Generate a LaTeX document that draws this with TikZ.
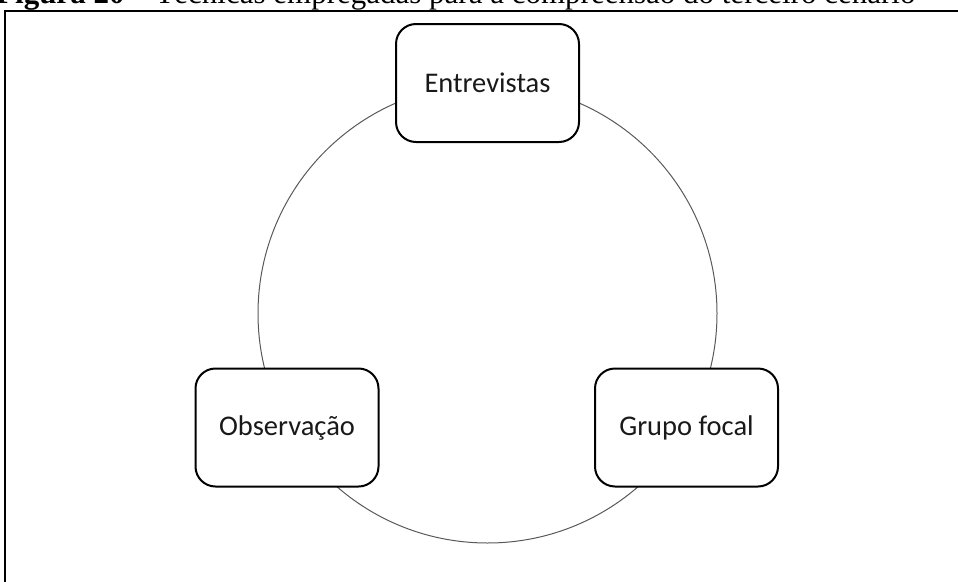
\documentclass[tikz,border=0pt]{standalone}
\usepackage{fontspec}
\setmainfont{Liberation Serif}
\newfontfamily\boxfont{Carlito}
\begin{document}
\begin{tikzpicture}[x=1pt,y=-1pt,
  technique/.style={draw=black, line width=2pt, rounded corners=20pt, fill=white,
    minimum width=183pt, minimum height=118pt, inner sep=0pt,
    font=\boxfont\fontsize{28.5}{32}\selectfont, text=black!90},
  cycle/.style={draw=black!65, line width=1pt}]
  \useasboundingbox (0,0) rectangle (958,581);
  % caption above the frame
  \node[anchor=base west, inner sep=0pt, font=\fontsize{31}{34}\selectfont] (caption) at (-4,3)
    {\textbf{Figura 20} – Técnicas empregadas para a compreensão do terceiro cenário};
  % frame
  \draw[line width=2pt] (5,600) -- (5,11) -- (980,11);
  % cycle joining the three techniques
  \coordinate (c) at (487.5,313.5);
  \draw[cycle] (c) circle[radius=229.5];
  \node[technique] (entrevistas) at (487.5,83) {Entrevistas};
  \node[technique] (observacao) at (287,427.5) {Observação};
  \node[technique] (grupo) at (686.5,427.5) {Grupo focal};
\end{tikzpicture}
\end{document}
